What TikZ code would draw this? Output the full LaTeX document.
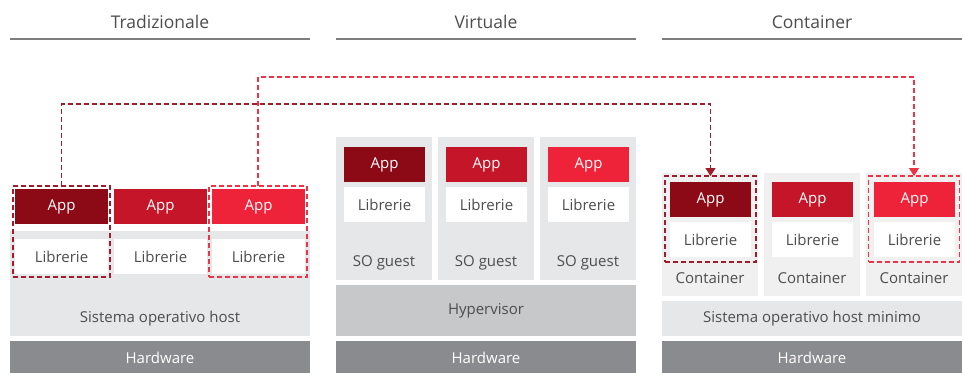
\documentclass[tikz,border=0pt]{standalone}
\usepackage{fontspec}
\setmainfont{Open Sans}
\usetikzlibrary{arrows.meta}
\definecolor{appdark}{HTML}{8B0A16}
\definecolor{appmid}{HTML}{C41628}
\definecolor{appbright}{HTML}{EE2339}
\definecolor{framedark}{HTML}{A01C2C}
\definecolor{framebright}{HTML}{EE3346}
\definecolor{osgrey}{HTML}{E6E7E8}
\definecolor{ctgrey}{HTML}{F0F0F1}
\definecolor{hypgrey}{HTML}{C7C8CA}
\definecolor{hwgrey}{HTML}{8A8B8E}
\definecolor{txtgrey}{HTML}{4D4D4F}
\definecolor{rulegrey}{HTML}{7D7D7F}
\tikzset{
  txtf/.style={font=\fontsize{15}{17}\selectfont},
  blk/.style={anchor=north west, inner sep=0pt, outer sep=0pt, draw=none},
  appbox/.style={blk, minimum height=35pt, text=white, txtf},
  libbox/.style={blk, fill=white, minimum height=35pt, text=txtgrey, txtf},
  lbl/.style={text=txtgrey, txtf, inner sep=0pt},
  hwbox/.style={blk, fill=hwgrey, minimum width=300pt, minimum height=33pt, text=white, txtf},
  ttl/.style={text=txtgrey, font=\fontsize{17.5}{20}\selectfont, inner sep=0pt},
  rulel/.style={draw=rulegrey, line width=1.6pt},
  dframe/.style={blk, draw, dash pattern=on 5pt off 3pt, line width=1.4pt},
  conn/.style={dash pattern=on 5pt off 3pt, line width=1.4pt},
}
\begin{document}
\begin{tikzpicture}[x=1pt,y=-1pt]
\useasboundingbox (0,0) rectangle (963,372);
% titles
\node[ttl] (tT) at (160,22) {Tradizionale};
\node[ttl] (tV) at (486,22) {Virtuale};
\node[ttl] (tC) at (812,22) {Container};
\coordinate (rT1) at (10,39); \coordinate (rT2) at (310,39);
\coordinate (rV1) at (336,39); \coordinate (rV2) at (636,39);
\coordinate (rC1) at (662,39); \coordinate (rC2) at (962,39);
\draw[rulel] (rT1) -- (rT2);
\draw[rulel] (rV1) -- (rV2);
\draw[rulel] (rC1) -- (rC2);

% ---------- Tradizionale
\node[blk, fill=osgrey, minimum width=300pt, minimum height=105pt] (osT) at (10,231) {};
\node[lbl] (osTl) at (160,319) {Sistema operativo host};
\node[hwbox] (hwT) at (10,341) {Hardware};
\node[appbox, fill=appdark, minimum width=93pt] (aT1) at (15,189) {App};
\node[appbox, fill=appmid, minimum width=93pt] (aT2) at (114,189) {App};
\node[appbox, fill=appbright, minimum width=93pt] (aT3) at (212,189) {App};
\node[libbox, minimum width=93pt] (lT1) at (15,239) {Librerie};
\node[libbox, minimum width=93pt] (lT2) at (114,239) {Librerie};
\node[libbox, minimum width=93pt] (lT3) at (212,239) {Librerie};
\node[dframe, draw=framedark, minimum width=97pt, minimum height=91pt] (fT1) at (13,186) {};
\node[dframe, draw=framebright, minimum width=98pt, minimum height=91pt] (fT3) at (209,186) {};

% ---------- Virtuale
\foreach \x/\c/\n in {336/appdark/1, 438/appmid/2, 540/appbright/3}{
  \node[blk, fill=osgrey, minimum width=96pt, minimum height=143pt] (vm\n) at (\x,137) {};
  \node[appbox, fill=\c, minimum width=81pt] (aV\n) at (\x+8,147) {App};
  \node[libbox, minimum width=81pt] (lV\n) at (\x+8,187) {Librerie};
  \node[lbl] (gV\n) at (\x+48,263) {SO guest};
}
\node[blk, fill=hypgrey, minimum width=300pt, minimum height=51pt, text=txtgrey, txtf] (hyp) at (336,285) {Hypervisor};
\node[hwbox] (hwV) at (336,341) {Hardware};

% ---------- Container
\foreach \x/\c/\n in {662/appdark/1, 764/appmid/2, 866/appbright/3}{
  \node[blk, fill=ctgrey, minimum width=96pt, minimum height=123pt] (ct\n) at (\x,173) {};
  \node[appbox, fill=\c, minimum width=81pt] (aC\n) at (\x+8,182) {App};
  \node[libbox, minimum width=81pt] (lC\n) at (\x+8,222) {Librerie};
  \node[lbl] (cC\n) at (\x+48,278) {Container};
}
\node[blk, fill=osgrey, minimum width=300pt, minimum height=35pt, text=txtgrey, txtf] (osC) at (662,301) {Sistema operativo host minimo};
\node[hwbox] (hwC) at (662,341) {Hardware};
\node[dframe, draw=framedark, minimum width=91pt, minimum height=86pt] (fC1) at (665,176) {};
\node[dframe, draw=framebright, minimum width=91pt, minimum height=86pt] (fC3) at (868.5,176) {};

% ---------- connectors
\draw[conn, draw=framedark, -{Triangle[width=10pt,length=8pt]}]
  (fT1.north) -- (fT1.north |- 0,104) -- (fC1.north |- 0,104) -- (fC1.north);
\draw[conn, draw=framebright, -{Triangle[width=10pt,length=8pt]}]
  (fT3.north) -- (fT3.north |- 0,77) -- (fC3.north |- 0,77) -- (fC3.north);
\end{tikzpicture}
\end{document}
